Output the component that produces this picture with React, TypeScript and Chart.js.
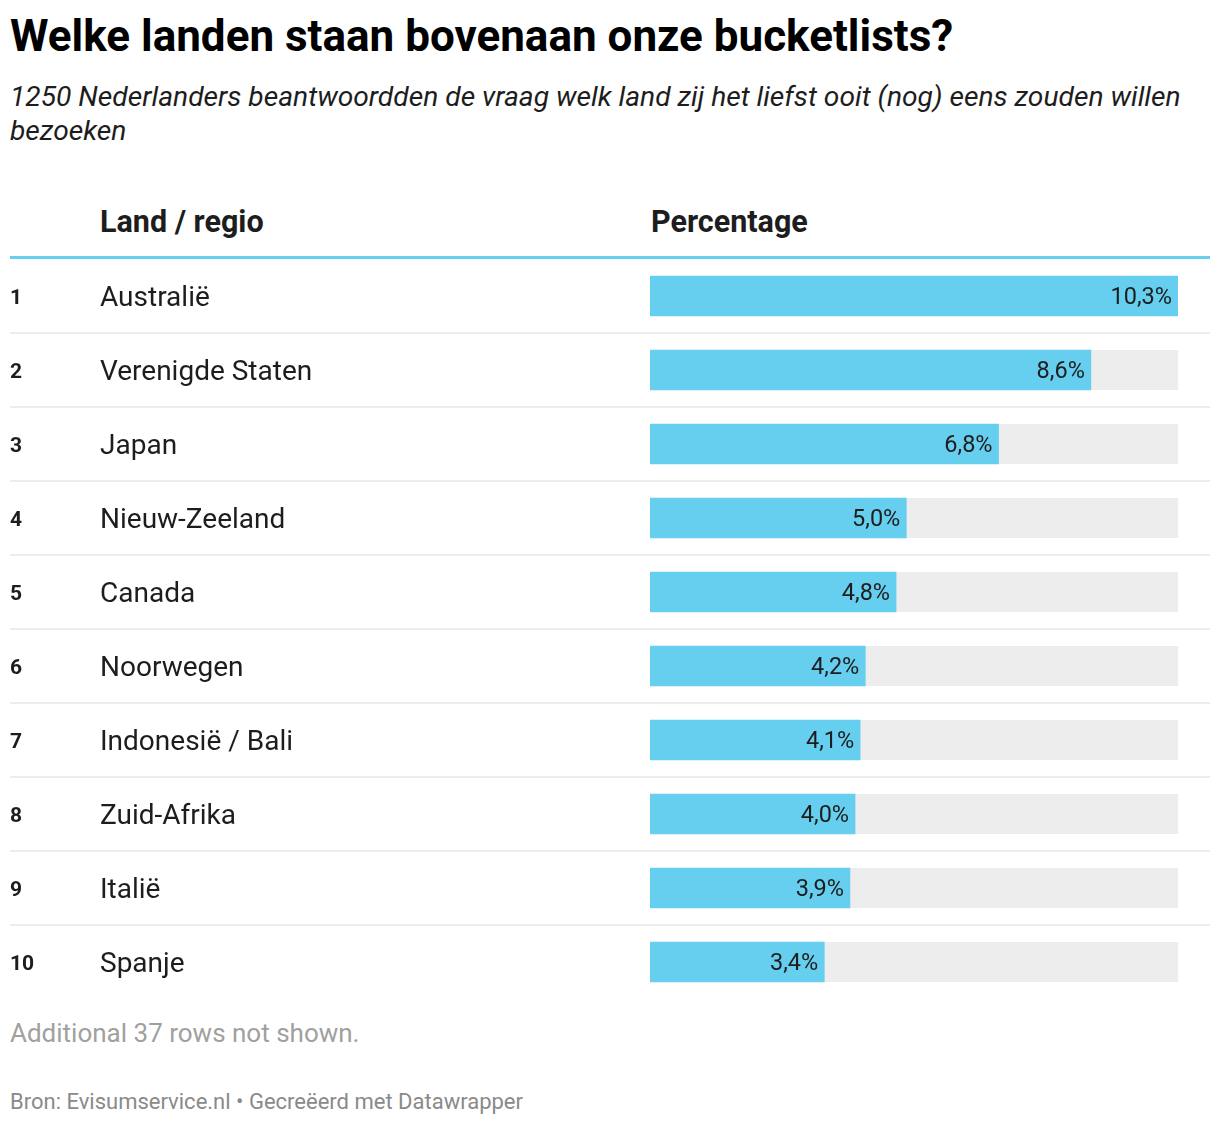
import React, { useEffect, useRef } from "react";
import { Chart, registerables } from "chart.js";

Chart.register(...registerables);

const ranks = ["1", "2", "3", "4", "5", "6", "7", "8", "9", "10"];
const countries = [
  "Australië",
  "Verenigde Staten",
  "Japan",
  "Nieuw-Zeeland",
  "Canada",
  "Noorwegen",
  "Indonesië / Bali",
  "Zuid-Afrika",
  "Italië",
  "Spanje",
];
const percentages = [10.3, 8.6, 6.8, 5.0, 4.8, 4.2, 4.1, 4.0, 3.9, 3.4];
const valueLabels = ["10,3%", "8,6%", "6,8%", "5,0%", "4,8%", "4,2%", "4,1%", "4,0%", "3,9%", "3,4%"];
const scaleMax = 10.3;

const TITLE = "Welke landen staan bovenaan onze bucketlists?";
const SUBTITLE =
  "1250 Nederlanders beantwoordden de vraag welk land zij het liefst ooit (nog) eens zouden willen bezoeken";
const COL_NAME = "Land / regio";
const COL_VALUE = "Percentage";
const NOTE = "Additional 37 rows not shown.";
const SOURCE = "Bron: Evisumservice.nl • Gecreëerd met Datawrapper";

const FONT = "Roboto, 'Noto Sans', sans-serif";
const BAR_COLOR = "#66cfef";
const TRACK_COLOR = "#ededed";
const SEP_COLOR = "#ececec";
const TEXT_COLOR = "#1d1d1d";

const tablePlugin = {
  id: "tableRows",
  beforeDatasetsDraw(chart: any) {
    const ctx = chart.ctx;
    const y = chart.scales.y;
    const area = chart.chartArea;
    const meta = chart.getDatasetMeta(0);
    ctx.save();
    for (let i = 0; i < countries.length; i++) {
      const cy = y.getPixelForValue(i);
      const el: any = meta.data[i];
      const h = el ? el.height : 40;
      ctx.fillStyle = TRACK_COLOR;
      ctx.fillRect(area.left, cy - h / 2, area.right - area.left, h);
      if (i < countries.length - 1) {
        const next = y.getPixelForValue(i + 1);
        const boundary = (cy + next) / 2;
        ctx.fillStyle = SEP_COLOR;
        ctx.fillRect(0, boundary - 1, chart.width, 2);
      }
      ctx.fillStyle = TEXT_COLOR;
      ctx.textBaseline = "middle";
      ctx.textAlign = "left";
      ctx.font = `bold 21px ${FONT}`;
      ctx.fillText(ranks[i], 0, cy + 3);
      ctx.font = `28px ${FONT}`;
      ctx.fillText(countries[i], 90, cy + 3);
    }
    ctx.restore();
  },
  afterDatasetsDraw(chart: any) {
    const ctx = chart.ctx;
    const meta = chart.getDatasetMeta(0);
    ctx.save();
    ctx.fillStyle = TEXT_COLOR;
    ctx.textBaseline = "middle";
    ctx.textAlign = "right";
    ctx.font = `23.5px ${FONT}`;
    meta.data.forEach((el: any, i: number) => {
      ctx.fillText(valueLabels[i], el.x - 6, el.y + 2);
    });
    ctx.restore();
  },
};

function TableChart() {
  const ref = useRef<HTMLCanvasElement | null>(null);
  useEffect(() => {
    if (!ref.current) return;
    const chart = new Chart(ref.current, {
      type: "bar",
      data: {
        labels: countries,
        datasets: [
          {
            data: percentages,
            backgroundColor: BAR_COLOR,
            borderWidth: 0,
            barThickness: 40,
          },
        ],
      },
      options: {
        indexAxis: "y",
        responsive: false,
        animation: false,
        devicePixelRatio: 1,
        layout: { padding: { left: 640, right: 32, top: 0, bottom: 0 } },
        scales: {
          x: { min: 0, max: scaleMax, display: false },
          y: { display: false, offset: true },
        },
        plugins: {
          legend: { display: false },
          tooltip: { enabled: false },
        },
      },
      plugins: [tablePlugin],
    } as any);
    return () => chart.destroy();
  }, []);
  return <canvas ref={ref} width={1200} height={740} style={{ display: "block" }} />;
}

export default function App() {
  const abs = (top: number, left: number, extra: any) => ({
    position: "absolute" as const,
    top,
    left,
    margin: 0,
    fontFamily: FONT,
    ...extra,
  });
  return (
    <div style={{ position: "relative", width: 1200, height: 1116, marginLeft: 2 }}>
      <div style={abs(2, 0, { fontSize: 44, lineHeight: "52px", fontWeight: 700, color: "#000", whiteSpace: "nowrap" })}>
        {TITLE}
      </div>
      <div style={abs(72.4, 0, { width: 1200, fontSize: 28.2, lineHeight: "34px", fontStyle: "italic", color: "#1d1d1d" })}>
        {SUBTITLE}
      </div>
      <div style={abs(195.6, 90, { fontSize: 30.5, lineHeight: "36px", fontWeight: 700, color: TEXT_COLOR })}>{COL_NAME}</div>
      <div style={abs(195.6, 641, { fontSize: 30.5, lineHeight: "36px", fontWeight: 700, color: TEXT_COLOR })}>{COL_VALUE}</div>
      <div style={{ position: "absolute", top: 248, left: 0, width: 1200, height: 3, background: BAR_COLOR }} />
      <div style={{ position: "absolute", top: 251, left: 0 }}>
        <TableChart />
      </div>
      <div style={abs(1009, 0, { fontSize: 26, lineHeight: "32px", color: "#a0a0a0" })}>{NOTE}</div>
      <div style={abs(1079.5, 0, { fontSize: 22, lineHeight: "28px", color: "#8a8a8a" })}>{SOURCE}</div>
    </div>
  );
}
